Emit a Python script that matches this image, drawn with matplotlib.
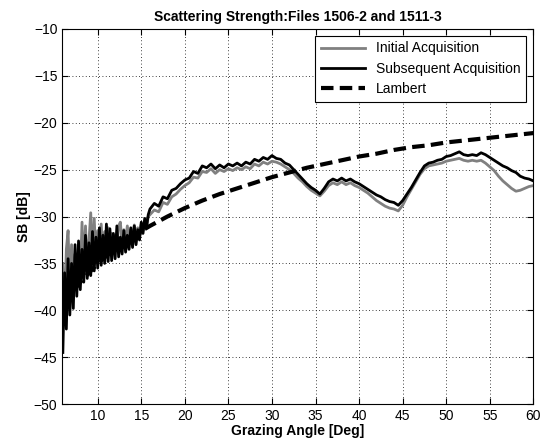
import numpy as np
import matplotlib.pyplot as plt

plt.rcParams["font.family"] = ["Liberation Sans", "DejaVu Sans"]
plt.rcParams["font.size"] = 10

# Low grazing angles, 0.2 deg steps from 6.0 deg (noisy part)
subseq_lo = [
    -44.5, -36.0, -42.0, -34.5, -40.5, -35.0, -39.8, -33.0, -38.5, -32.6,
    -37.8, -33.5, -37.0, -32.0, -36.6, -32.8, -36.3, -31.6, -35.8, -32.2,
    -35.5, -31.2, -35.2, -32.0, -35.0, -30.8, -34.8, -31.3, -34.7, -31.8,
    -34.5, -31.0, -34.3, -32.2, -34.0, -31.5, -33.8, -32.0, -33.5, -31.2,
    -33.3, -31.0, -33.0, -31.4, -32.5, -30.6, -31.8, -30.2, -31.2, -29.8,
]
initial_lo = [
    -35.0, -41.0, -33.5, -31.5, -38.0, -33.0, -37.5, -34.0, -36.8, -33.0,
    -36.5, -30.6, -35.8, -31.0, -35.5, -32.5, -29.6, -34.8, -30.2, -34.5,
    -31.5, -34.2, -30.8, -34.0, -31.6, -33.8, -31.2, -33.6, -31.8, -33.4,
    -32.0, -33.2, -31.0, -30.6, -32.9, -31.4, -32.6, -31.0, -32.4, -31.4,
    -32.2, -30.9, -32.0, -31.2, -31.8, -30.8, -31.5, -30.4, -31.2, -30.0,
]

# 16 to 60 deg, 0.5 deg steps
subseq_hi = [
    -29.2, -28.6, -28.9, -27.9, -28.1, -27.2, -27.0, -26.5, -26.1, -25.9,
    -25.2, -25.4, -24.6, -24.8, -24.4, -24.9, -24.5, -24.8, -24.4, -24.6,
    -24.3, -24.6, -24.2, -24.4, -23.9, -24.1, -23.7, -23.9, -23.5, -23.8,
    -23.9, -24.3, -24.5, -25.0, -25.5, -26.0, -26.5, -26.9, -27.2, -27.6,
    -27.0, -26.3, -26.0, -26.2, -25.9, -26.2, -26.0, -26.3, -26.5, -26.8,
    -27.1, -27.4, -27.7, -27.9, -28.2, -28.4, -28.5, -28.8, -28.3, -27.6,
    -26.9, -26.1, -25.3, -24.6, -24.3, -24.2, -24.0, -23.9, -23.6, -23.5,
    -23.3, -23.1, -23.4, -23.5, -23.4, -23.5, -23.2, -23.4, -23.7, -24.0,
    -24.3, -24.6, -24.8, -25.1, -25.3, -25.7, -25.9, -26.0, -26.2,
]
initial_hi = [
    -29.8, -29.3, -29.5, -28.5, -28.7, -27.9, -27.6, -27.1, -26.7, -26.4,
    -25.8, -25.9, -25.2, -25.3, -24.9, -25.4, -25.0, -25.2, -24.9, -25.1,
    -24.8, -25.0, -24.7, -24.9, -24.4, -24.6, -24.2, -24.4, -24.1, -24.2,
    -24.4, -24.7, -25.0, -25.4, -25.9, -26.3, -26.8, -27.2, -27.5, -27.8,
    -27.3, -26.7, -26.4, -26.6, -26.3, -26.6, -26.4, -26.7, -26.9, -27.2,
    -27.5, -27.9, -28.3, -28.6, -28.9, -29.1, -29.2, -29.4, -28.8, -27.9,
    -27.1, -26.3, -25.5, -24.9, -24.6, -24.5, -24.4, -24.3, -24.1, -24.0,
    -23.9, -23.8, -24.0, -24.1, -24.0, -24.1, -24.0, -24.3, -24.7, -25.1,
    -25.7, -26.2, -26.6, -27.0, -27.3, -27.2, -27.0, -26.8, -26.7,
]

# Lambert curve, 2 deg steps from 6 to 60
lambert_angle = list(range(6, 61, 2))
lambert = [
    -39.4, -37.0, -35.0, -33.4, -32.1, -31.0, -30.0, -29.1, -28.3, -27.6,
    -27.0, -26.4, -25.8, -25.3, -24.8, -24.4, -24.0, -23.6, -23.3, -22.9,
    -22.6, -22.4, -22.1, -21.9, -21.7, -21.5, -21.3, -21.1,
]

angle_lo = 6.0 + 0.2 * np.arange(len(subseq_lo))
angle_hi = 16.0 + 0.5 * np.arange(len(subseq_hi))
angle = np.concatenate([angle_lo, angle_hi])
subseq = np.concatenate([subseq_lo, subseq_hi])
initial = np.concatenate([initial_lo, initial_hi])

fig = plt.figure(figsize=(5.42, 4.46), dpi=100)
ax = fig.add_axes([0.115, 0.094, 0.869, 0.841])

ax.plot(angle, initial, color="#808080", lw=2, label="Initial Acquisition")
ax.plot(angle, subseq, color="black", lw=2, label="Subsequent Acquisition")
ax.plot(lambert_angle, lambert, color="black", lw=3, ls=(0, (3, 1.5)), label="Lambert")

ax.set_xlim(5.94, 60)
ax.set_ylim(-50, -10)
ax.set_xticks(range(10, 61, 5))
ax.set_yticks(range(-50, -9, 5))
ax.grid(True, color="black", ls=(0, (1, 3)), lw=0.6)
ax.tick_params(direction="in", top=True, right=True, length=4, labelsize=10)

ax.set_title("Scattering Strength:Files 1506-2 and 1511-3", fontweight="bold", fontsize=10)
ax.set_xlabel("Grazing Angle [Deg]", fontweight="bold", labelpad=1)
ax.set_ylabel("SB [dB]", fontweight="bold", labelpad=2)

leg = ax.legend(loc="upper right", fancybox=False, framealpha=1, edgecolor="black",
                handlelength=3.2, borderaxespad=0.5, labelspacing=0.45)
leg.get_frame().set_linewidth(0.8)

fig.savefig("out.png", dpi=100)
